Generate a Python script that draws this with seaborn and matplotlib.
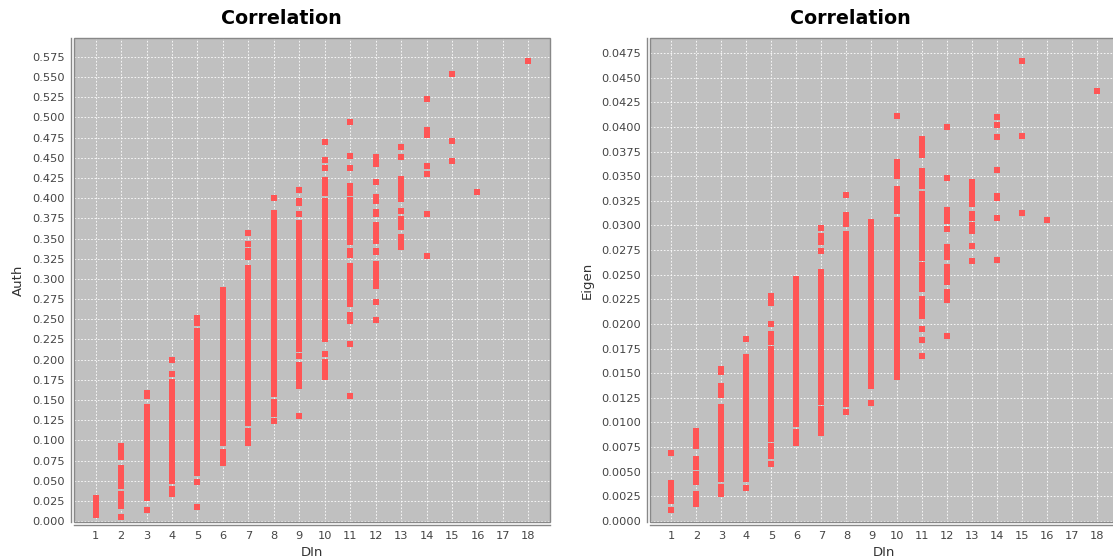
import numpy as np
import pandas as pd
import matplotlib
matplotlib.use("Agg")
import matplotlib.pyplot as plt
from matplotlib.patches import Rectangle
import seaborn as sns

# DIn categories on the x axis
din_values = list(range(1, 19))

# Auth values per DIn (left chart)
auth_d1 = [0.028, 0.022, 0.016, 0.010, 0.008]
auth_d2 = [0.093, 0.086, 0.079, 0.066, 0.060, 0.054, 0.048, 0.044, 0.034, 0.028, 0.022, 0.019, 0.005]
auth_d3 = [0.159, 0.155, 0.141, 0.134, 0.128, 0.121, 0.115, 0.108, 0.102, 0.095, 0.089, 0.082, 0.076,
           0.069, 0.063, 0.056, 0.050, 0.043, 0.037, 0.030, 0.028, 0.014]
auth_d4 = [0.200, 0.182, 0.172, 0.165, 0.159, 0.152, 0.146, 0.139, 0.133, 0.126, 0.120, 0.113, 0.107,
           0.100, 0.094, 0.087, 0.081, 0.074, 0.068, 0.061, 0.055, 0.050, 0.040, 0.033]
auth_d5 = [0.251, 0.245, 0.236, 0.229, 0.223, 0.216, 0.210, 0.203, 0.197, 0.190, 0.184, 0.177, 0.171,
           0.164, 0.158, 0.151, 0.145, 0.138, 0.132, 0.125, 0.119, 0.112, 0.106, 0.099, 0.093, 0.086,
           0.080, 0.073, 0.067, 0.060, 0.048, 0.017]
auth_d6 = [0.286, 0.280, 0.273, 0.267, 0.260, 0.254, 0.247, 0.241, 0.234, 0.228, 0.221, 0.215, 0.208,
           0.202, 0.195, 0.189, 0.182, 0.176, 0.169, 0.163, 0.156, 0.150, 0.143, 0.137, 0.130, 0.124,
           0.117, 0.111, 0.104, 0.097, 0.085, 0.079, 0.072]
auth_d7 = [0.357, 0.343, 0.334, 0.327, 0.314, 0.308, 0.301, 0.295, 0.288, 0.282, 0.275, 0.269, 0.262,
           0.256, 0.249, 0.243, 0.236, 0.230, 0.223, 0.217, 0.210, 0.204, 0.197, 0.191, 0.184, 0.178,
           0.171, 0.165, 0.158, 0.152, 0.145, 0.139, 0.132, 0.126, 0.121, 0.111, 0.104, 0.097]
auth_d8 = [0.400, 0.382, 0.376, 0.369, 0.363, 0.356, 0.350, 0.343, 0.337, 0.330, 0.324, 0.317, 0.311,
           0.304, 0.298, 0.291, 0.285, 0.278, 0.272, 0.265, 0.259, 0.252, 0.246, 0.239, 0.233, 0.226,
           0.220, 0.213, 0.207, 0.200, 0.194, 0.187, 0.181, 0.174, 0.168, 0.161, 0.157, 0.147, 0.140,
           0.133, 0.124]
auth_d9 = [0.410, 0.397, 0.394, 0.381, 0.369, 0.362, 0.356, 0.349, 0.343, 0.336, 0.330, 0.323, 0.317,
           0.310, 0.304, 0.297, 0.291, 0.284, 0.278, 0.271, 0.265, 0.258, 0.252, 0.245, 0.239, 0.232,
           0.226, 0.219, 0.213, 0.205, 0.193, 0.186, 0.180, 0.173, 0.167, 0.130]
auth_d10 = [0.470, 0.447, 0.437, 0.423, 0.417, 0.410, 0.406, 0.396, 0.389, 0.383, 0.376, 0.370, 0.363,
            0.357, 0.350, 0.344, 0.337, 0.331, 0.324, 0.318, 0.311, 0.305, 0.298, 0.292, 0.285, 0.279,
            0.272, 0.266, 0.259, 0.253, 0.246, 0.240, 0.233, 0.226, 0.207, 0.197, 0.190, 0.184, 0.179]
auth_d11 = [0.494, 0.452, 0.438, 0.415, 0.410, 0.407, 0.398, 0.391, 0.385, 0.378, 0.372, 0.365, 0.359,
            0.352, 0.346, 0.334, 0.330, 0.316, 0.310, 0.303, 0.297, 0.290, 0.284, 0.277, 0.271, 0.269,
            0.255, 0.248, 0.219, 0.155]
auth_d12 = [0.451, 0.445, 0.442, 0.420, 0.401, 0.396, 0.383, 0.380, 0.367, 0.361, 0.354, 0.347, 0.335,
            0.333, 0.319, 0.311, 0.304, 0.298, 0.291, 0.271, 0.249]
auth_d13 = [0.463, 0.451, 0.424, 0.418, 0.411, 0.405, 0.399, 0.384, 0.374, 0.368, 0.364, 0.352, 0.346, 0.340]
auth_d14 = [0.523, 0.485, 0.481, 0.478, 0.440, 0.430, 0.380, 0.328]
auth_d15 = [0.554, 0.471, 0.446]
auth_d16 = [0.408]
auth_d17 = []
auth_d18 = [0.570]

# Eigen values per DIn (right chart)
eigen_d1 = [0.0069, 0.0039, 0.0035, 0.0028, 0.0024, 0.0020, 0.0011]
eigen_d2 = [0.0091, 0.0086, 0.0081, 0.0076, 0.0063, 0.0059, 0.0055, 0.0048, 0.0044, 0.0040,
            0.0027, 0.0022, 0.0017]
eigen_d3 = [0.0154, 0.0151, 0.0137, 0.0132, 0.0128, 0.0116, 0.0111, 0.0106, 0.0101, 0.0096, 0.0091,
            0.0086, 0.0081, 0.0076, 0.0071, 0.0066, 0.0061, 0.0056, 0.0051, 0.0046, 0.0043, 0.0035,
            0.0031, 0.0027]
eigen_d4 = [0.0185, 0.0166, 0.0161, 0.0156, 0.0151, 0.0146, 0.0141, 0.0136, 0.0131, 0.0126, 0.0121,
            0.0116, 0.0111, 0.0106, 0.0101, 0.0096, 0.0091, 0.0086, 0.0081, 0.0076, 0.0071, 0.0066,
            0.0061, 0.0056, 0.0051, 0.0046, 0.0043, 0.0034]
eigen_d5 = [0.0228, 0.0224, 0.0221, 0.0200, 0.0190, 0.0186, 0.0182, 0.0175, 0.0170, 0.0165, 0.0160,
            0.0155, 0.0150, 0.0145, 0.0140, 0.0135, 0.0130, 0.0125, 0.0120, 0.0115, 0.0110, 0.0105,
            0.0100, 0.0095, 0.0090, 0.0085, 0.0083, 0.0076, 0.0071, 0.0066, 0.0058]
eigen_d6 = [0.0246, 0.0241, 0.0236, 0.0231, 0.0226, 0.0221, 0.0216, 0.0211, 0.0206, 0.0201, 0.0196,
            0.0191, 0.0186, 0.0181, 0.0176, 0.0171, 0.0166, 0.0161, 0.0156, 0.0151, 0.0146, 0.0141,
            0.0136, 0.0131, 0.0126, 0.0121, 0.0116, 0.0111, 0.0106, 0.0101, 0.0098, 0.0090, 0.0085,
            0.0079]
eigen_d7 = [0.0297, 0.0289, 0.0286, 0.0283, 0.0274, 0.0253, 0.0248, 0.0243, 0.0238, 0.0233, 0.0228,
            0.0223, 0.0218, 0.0213, 0.0208, 0.0203, 0.0198, 0.0193, 0.0188, 0.0183, 0.0178, 0.0173,
            0.0168, 0.0163, 0.0158, 0.0153, 0.0148, 0.0143, 0.0138, 0.0133, 0.0128, 0.0123, 0.0121,
            0.0114, 0.0109, 0.0104, 0.0099, 0.0094, 0.0089]
eigen_d8 = [0.0331, 0.0311, 0.0306, 0.0301, 0.0291, 0.0286, 0.0281, 0.0276, 0.0271, 0.0266, 0.0261,
            0.0256, 0.0251, 0.0246, 0.0241, 0.0236, 0.0231, 0.0226, 0.0221, 0.0216, 0.0211, 0.0206,
            0.0201, 0.0196, 0.0191, 0.0186, 0.0181, 0.0176, 0.0171, 0.0166, 0.0161, 0.0156, 0.0151,
            0.0146, 0.0141, 0.0136, 0.0131, 0.0126, 0.0121, 0.0119, 0.0111]
eigen_d9 = [0.0303, 0.0298, 0.0293, 0.0288, 0.0283, 0.0278, 0.0273, 0.0268, 0.0263, 0.0258, 0.0253,
            0.0248, 0.0243, 0.0238, 0.0233, 0.0228, 0.0223, 0.0218, 0.0213, 0.0208, 0.0203, 0.0198,
            0.0193, 0.0188, 0.0183, 0.0178, 0.0173, 0.0168, 0.0163, 0.0158, 0.0153, 0.0148, 0.0143,
            0.0138, 0.0137, 0.0120]
eigen_d10 = [0.0411, 0.0364, 0.0359, 0.0354, 0.0350, 0.0337, 0.0332, 0.0327, 0.0322, 0.0317, 0.0315,
             0.0305, 0.0300, 0.0295, 0.0290, 0.0285, 0.0280, 0.0275, 0.0270, 0.0265, 0.0260, 0.0255,
             0.0250, 0.0245, 0.0240, 0.0235, 0.0230, 0.0225, 0.0220, 0.0215, 0.0210, 0.0205, 0.0200,
             0.0195, 0.0190, 0.0185, 0.0180, 0.0175, 0.0170, 0.0165, 0.0160, 0.0155, 0.0150, 0.0146]
eigen_d11 = [0.0388, 0.0383, 0.0378, 0.0373, 0.0371, 0.0355, 0.0350, 0.0345, 0.0340, 0.0332, 0.0327,
             0.0322, 0.0317, 0.0312, 0.0307, 0.0302, 0.0297, 0.0292, 0.0287, 0.0282, 0.0277, 0.0272,
             0.0267, 0.0260, 0.0255, 0.0250, 0.0245, 0.0240, 0.0235, 0.0225, 0.0220, 0.0215, 0.0210,
             0.0208, 0.0195, 0.0184, 0.0167]
eigen_d12 = [0.0400, 0.0348, 0.0316, 0.0311, 0.0306, 0.0304, 0.0296, 0.0278, 0.0273, 0.0268, 0.0258,
             0.0253, 0.0248, 0.0243, 0.0232, 0.0228, 0.0224, 0.0188]
eigen_d13 = [0.0344, 0.0339, 0.0334, 0.0329, 0.0324, 0.0322, 0.0312, 0.0308, 0.0300, 0.0296, 0.0294,
             0.0279, 0.0264]
eigen_d14 = [0.0410, 0.0402, 0.0390, 0.0356, 0.0330, 0.0328, 0.0308, 0.0265]
eigen_d15 = [0.0467, 0.0391, 0.0313]
eigen_d16 = [0.0305]
eigen_d17 = []
eigen_d18 = [0.0436]

auth_cols = [auth_d1, auth_d2, auth_d3, auth_d4, auth_d5, auth_d6, auth_d7, auth_d8, auth_d9,
             auth_d10, auth_d11, auth_d12, auth_d13, auth_d14, auth_d15, auth_d16, auth_d17, auth_d18]
eigen_cols = [eigen_d1, eigen_d2, eigen_d3, eigen_d4, eigen_d5, eigen_d6, eigen_d7, eigen_d8, eigen_d9,
              eigen_d10, eigen_d11, eigen_d12, eigen_d13, eigen_d14, eigen_d15, eigen_d16, eigen_d17,
              eigen_d18]


def to_frame(cols, name):
    rows = [(d, v) for d, vals in zip(din_values, cols) for v in vals]
    return pd.DataFrame(rows, columns=["DIn", name])


auth_df = to_frame(auth_cols, "Auth")
eigen_df = to_frame(eigen_cols, "Eigen")

sns.set_style("white")
plt.rcParams['font.family'] = ['DejaVu Sans']

W, H = 1113, 560
fig = plt.figure(figsize=(W / 100, H / 100), dpi=100)
fig.patch.set_facecolor("white")

RED = "#FF5555"
BG = "#C0C0C0"
TICK_COLOR = "#444444"
AXIS_COLOR = "#888888"


def style_axes(ax, ylim, yticks, yfmt, ylabel, ylab_x):
    ax.set_facecolor(BG)
    ax.set_xlim(0.15, 18.85)
    ax.set_ylim(*ylim)
    ax.set_xticks(din_values)
    ax.set_yticks(yticks)
    ax.set_yticklabels([yfmt % t for t in yticks])
    ax.set_axisbelow(True)
    ax.grid(True, color="white", linestyle=(0, (2, 2)), linewidth=0.6)
    for s in ["top", "right"]:
        ax.spines[s].set_visible(False)
    for s in ["left", "bottom"]:
        ax.spines[s].set_position(("outward", 2.5))
        ax.spines[s].set_color(AXIS_COLOR)
        ax.spines[s].set_linewidth(1.0)
    ax.add_patch(Rectangle((0, 0), 1, 1, transform=ax.transAxes, fill=False,
                           edgecolor=AXIS_COLOR, linewidth=1.0, clip_on=False, zorder=5))
    ax.tick_params(axis="both", colors=AXIS_COLOR, labelcolor=TICK_COLOR, length=2,
                   width=0.8, labelsize=8.2, pad=2)
    ax.set_xlabel("DIn", fontsize=9.5, color="#333333")
    ax.set_ylabel(ylabel, fontsize=9.5, color="#333333")
    ax.xaxis.set_label_coords(0.5, -0.062)
    ax.xaxis.label.set(va="center", ha="center")
    ax.yaxis.set_label_coords(ylab_x, 0.5)
    ax.yaxis.label.set(va="center", ha="center", rotation_mode="anchor")


# Left chart: Auth vs DIn
ax1 = fig.add_axes([74 / W, (H - 522) / H, (550 - 74) / W, (522 - 38) / H])
sns.scatterplot(data=auth_df, x="DIn", y="Auth", ax=ax1, marker="s", s=22,
                color=RED, linewidth=0, legend=False)
auth_ticks = [i * 0.025 for i in range(24)]
style_axes(ax1, (-0.0012, 0.5985), auth_ticks, "%.3f", "Auth", (18 - 74) / (550 - 74))

# Right chart: Eigen vs DIn
ax2 = fig.add_axes([650 / W, (H - 522) / H, (1118 - 650) / W, (522 - 38) / H])
sns.scatterplot(data=eigen_df, x="DIn", y="Eigen", ax=ax2, marker="s", s=22,
                color=RED, linewidth=0, legend=False)
eigen_ticks = [i * 0.0025 for i in range(20)]
style_axes(ax2, (-0.0001, 0.04902), eigen_ticks, "%.4f", "Eigen", (587 - 650) / (1118 - 650))

# Titles centred over each chart panel
fig.text(281 / W, 1 - 18 / H, "Correlation", ha="center", va="center",
         fontsize=13.7, fontweight="bold", color="black")
fig.text(850 / W, 1 - 18 / H, "Correlation", ha="center", va="center",
         fontsize=13.7, fontweight="bold", color="black")

fig.savefig("out.png", dpi=100, facecolor="white")
